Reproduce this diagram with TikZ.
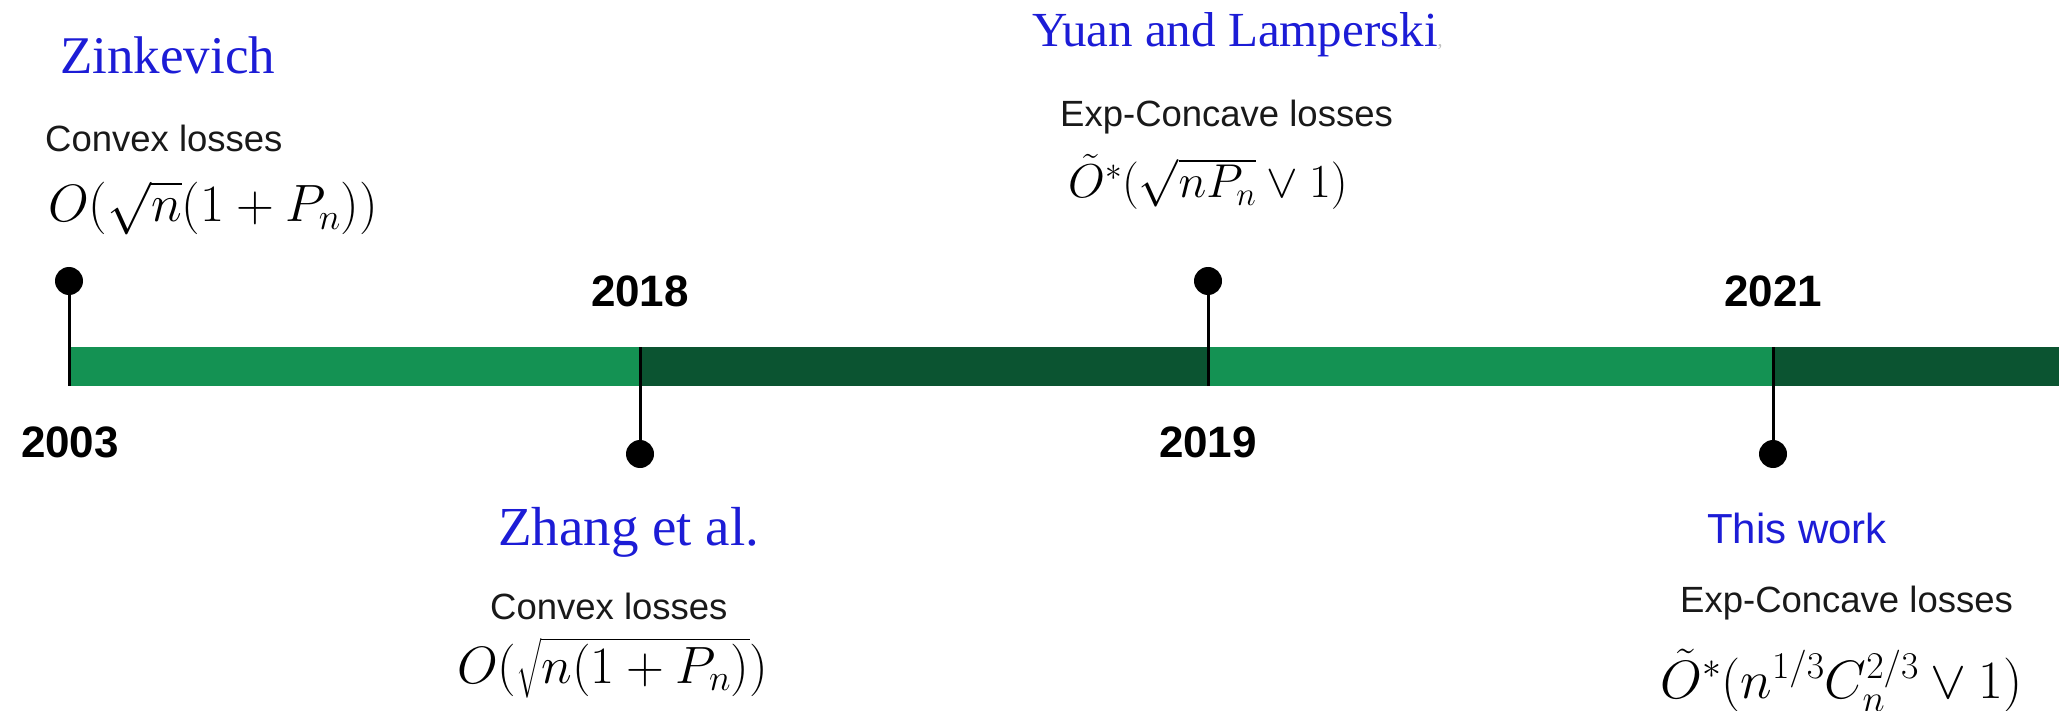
\RequirePackage{fix-cm}
\documentclass[tikz,border=0pt]{standalone}
\usepackage{amsmath}
\usepackage{fontspec}
\newfontfamily\authorfont{Liberation Serif}
\newfontfamily\notefont{Liberation Sans}
\definecolor{barlight}{RGB}{20,146,83}
\definecolor{bardark}{RGB}{11,84,49}
\definecolor{authorblue}{RGB}{28,28,214}
\definecolor{notegray}{RGB}{25,25,25}
\tikzset{
  pin/.style={circle, fill=black, minimum size=28pt, inner sep=0pt},
  stem/.style={line width=3pt, black},
  year/.style={anchor=base, inner sep=0pt, font=\notefont\bfseries\fontsize{44}{48}\selectfont},
  author/.style={anchor=base west, inner sep=0pt, text=authorblue},
  note/.style={anchor=base west, inner sep=0pt, text=notegray, font=\notefont\fontsize{36.5}{42}\selectfont},
  bound/.style={anchor=base west, inner sep=0pt},
}
\begin{document}
\begin{tikzpicture}[x=1pt, y=-1pt]
\useasboundingbox (0,0) rectangle (2059,711);

% timeline bar
\fill[barlight] (68,347) rectangle (640,386);
\fill[bardark]  (640,347) rectangle (1208,386);
\fill[barlight] (1208,347) rectangle (1773,386);
\fill[bardark]  (1773,347) rectangle (2059,386);

% pin ends on the bar
\coordinate (barA) at (69,386);
\coordinate (barB) at (640,347);
\coordinate (barC) at (1208,386);
\coordinate (barD) at (1773,347);

% pins
\node[pin] (pinA) at (69,281) {};
\node[pin] (pinB) at (640,454) {};
\node[pin] (pinC) at (1208,281) {};
\node[pin] (pinD) at (1773,454) {};
\draw[stem] (pinA.center) -- (barA);
\draw[stem] (pinB.center) -- (barB);
\draw[stem] (pinC.center) -- (barC);
\draw[stem] (pinD.center) -- (barD);

% years
\node[year] (y2003) at (70,457) {2003};
\node[year] (y2018) at (640,307) {2018};
\node[year] (y2019) at (1208,457) {2019};
\node[year] (y2021) at (1773,307) {2021};

% 2003
\node[author, font=\authorfont\fontsize{53}{60}\selectfont] (zink) at (60,74) {Zinkevich};
\node[note] (zinknote) at (45,152) {Convex losses};
\node[bound, font=\fontsize{52.5}{58}\selectfont] (zinkbound) at (48,222) {$O(\sqrt{n}(1+P_n))$};

% 2018
\node[author, font=\authorfont\fontsize{55}{62}\selectfont] (zhang) at (498,545) {Zhang et al.};
\node[note] (zhangnote) at (490,619) {Convex losses};
\node[bound, font=\fontsize{52.5}{58}\selectfont] (zhangbound) at (457,683) {$O(\sqrt{n(1+P_n)})$};

% 2019
\node[author, font=\authorfont\fontsize{49}{56}\selectfont] (yuan) at (1032,47) {Yuan and Lamperski\textcolor{black!25}{\fontsize{20}{22}\selectfont,}};
\node[note] (yuannote) at (1060,127) {Exp-Concave losses};
\node[bound, font=\fontsize{47.5}{52}\selectfont] (yuanbound) at (1068,198) {$\tilde{O}^*(\sqrt{nP_n}\vee 1)$};

% 2021
\node[author, font=\notefont\fontsize{42}{48}\selectfont] (this) at (1707,543) {This work};
\node[note] (thisnote) at (1680,612) {Exp-Concave losses};
\node[bound, font=\fontsize{54}{60}\selectfont] (thisbound) at (1660,698) {$\tilde{O}^*(n^{1/3}C_n^{2/3}\vee 1)$};
\end{tikzpicture}
\end{document}
